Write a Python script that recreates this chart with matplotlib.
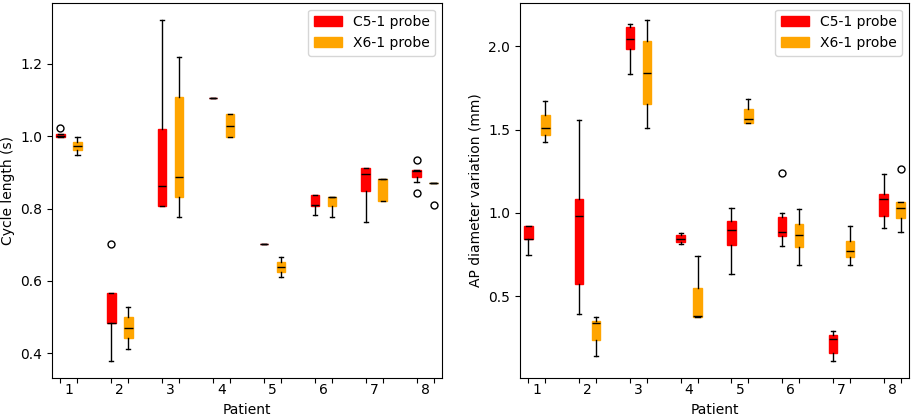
import matplotlib
matplotlib.use("Agg")
import matplotlib.pyplot as plt
from matplotlib.patches import Patch

patients = ["1", "2", "3", "4", "5", "6", "7", "8"]

# Cycle length (s) - box statistics
cl_c5_med = [1.001, 0.485, 0.863, 1.107, 0.703, 0.809, 0.895, 0.904]
cl_c5_q1 = [0.999, 0.485, 0.808, 1.107, 0.703, 0.807, 0.849, 0.887]
cl_c5_q3 = [1.005, 0.568, 1.019, 1.107, 0.703, 0.837, 0.911, 0.906]
cl_c5_lo = [0.999, 0.378, 0.808, 1.107, 0.703, 0.782, 0.763, 0.873]
cl_c5_hi = [1.005, 0.568, 1.322, 1.107, 0.703, 0.837, 0.911, 0.906]
cl_c5_fl = [[1.023], [0.702], [], [], [], [], [], [0.934, 0.843]]

cl_x6_med = [0.973, 0.470, 0.887, 1.029, 0.639, 0.832, 0.881, 0.872]
cl_x6_q1 = [0.961, 0.442, 0.832, 0.998, 0.624, 0.806, 0.821, 0.872]
cl_x6_q3 = [0.985, 0.500, 1.109, 1.062, 0.652, 0.832, 0.881, 0.872]
cl_x6_lo = [0.949, 0.412, 0.777, 0.998, 0.610, 0.777, 0.821, 0.872]
cl_x6_hi = [0.999, 0.529, 1.220, 1.062, 0.666, 0.832, 0.881, 0.872]
cl_x6_fl = [[], [], [], [], [], [], [], [0.810]]

# AP diameter variation (mm)
ap_c5_med = [0.843, 0.979, 2.042, 0.845, 0.895, 0.885, 0.242, 1.082]
ap_c5_q1 = [0.843, 0.576, 1.984, 0.826, 0.805, 0.863, 0.158, 0.979]
ap_c5_q3 = [0.919, 1.082, 2.119, 0.865, 0.951, 0.973, 0.268, 1.112]
ap_c5_lo = [0.748, 0.395, 1.835, 0.814, 0.632, 0.803, 0.110, 0.911]
ap_c5_hi = [0.919, 1.556, 2.137, 0.881, 1.029, 0.999, 0.290, 1.234]
ap_c5_fl = [[], [], [], [], [], [1.241], [], []]

ap_x6_med = [1.513, 0.337, 1.843, 0.381, 1.562, 0.869, 0.774, 1.029]
ap_x6_q1 = [1.467, 0.236, 1.656, 0.378, 1.538, 0.796, 0.736, 0.969]
ap_x6_q3 = [1.590, 0.351, 2.034, 0.551, 1.622, 0.935, 0.833, 1.068]
ap_x6_lo = [1.425, 0.142, 1.510, 0.376, 1.538, 0.686, 0.688, 0.883]
ap_x6_hi = [1.674, 0.378, 2.160, 0.742, 1.686, 1.023, 0.923, 1.068]
ap_x6_fl = [[], [], [], [], [], [], [], [1.263]]


def make_stats(med, q1, q3, lo, hi, fl):
    return [dict(med=med[i], q1=q1[i], q3=q3[i], whislo=lo[i], whishi=hi[i], fliers=fl[i])
            for i in range(len(med))]


def draw(ax, c5, x6, ylabel):
    pos_c5 = [3 * i + 1 for i in range(len(patients))]
    pos_x6 = [3 * i + 2 for i in range(len(patients))]
    for stats, pos, col in [(c5, pos_c5, "red"), (x6, pos_x6, "orange")]:
        ax.bxp(stats, positions=pos, widths=0.5, patch_artist=True,
               boxprops=dict(facecolor=col, color=col),
               medianprops=dict(color="black"),
               flierprops=dict(marker="o", markerfacecolor="none", markeredgecolor="black", markersize=5))
    ax.set_xticks(sorted(pos_c5 + pos_x6))
    ax.set_xticklabels([])
    ax.set_xticks([p + 0.5 for p in pos_c5], minor=True)
    ax.set_xticklabels(patients, minor=True)
    ax.tick_params(axis="x", which="minor", length=0)
    ax.set_xlim(0.5, pos_x6[-1] + 0.5)
    ax.set_xlabel("Patient")
    ax.set_ylabel(ylabel)
    ax.legend(handles=[Patch(color="red", label="C5-1 probe"),
                       Patch(color="orange", label="X6-1 probe")],
              loc="upper right")


fig = plt.figure(figsize=(9.13, 4.17), dpi=100)
ax1 = fig.add_axes([52 / 913, 38.7 / 417, 390 / 913, 375.6 / 417])
ax2 = fig.add_axes([520 / 913, 38.7 / 417, 389 / 913, 375.6 / 417])

draw(ax1, make_stats(cl_c5_med, cl_c5_q1, cl_c5_q3, cl_c5_lo, cl_c5_hi, cl_c5_fl),
     make_stats(cl_x6_med, cl_x6_q1, cl_x6_q3, cl_x6_lo, cl_x6_hi, cl_x6_fl),
     "Cycle length (s)")
draw(ax2, make_stats(ap_c5_med, ap_c5_q1, ap_c5_q3, ap_c5_lo, ap_c5_hi, ap_c5_fl),
     make_stats(ap_x6_med, ap_x6_q1, ap_x6_q3, ap_x6_lo, ap_x6_hi, ap_x6_fl),
     "AP diameter variation (mm)")

fig.savefig("out.png", dpi=100)
